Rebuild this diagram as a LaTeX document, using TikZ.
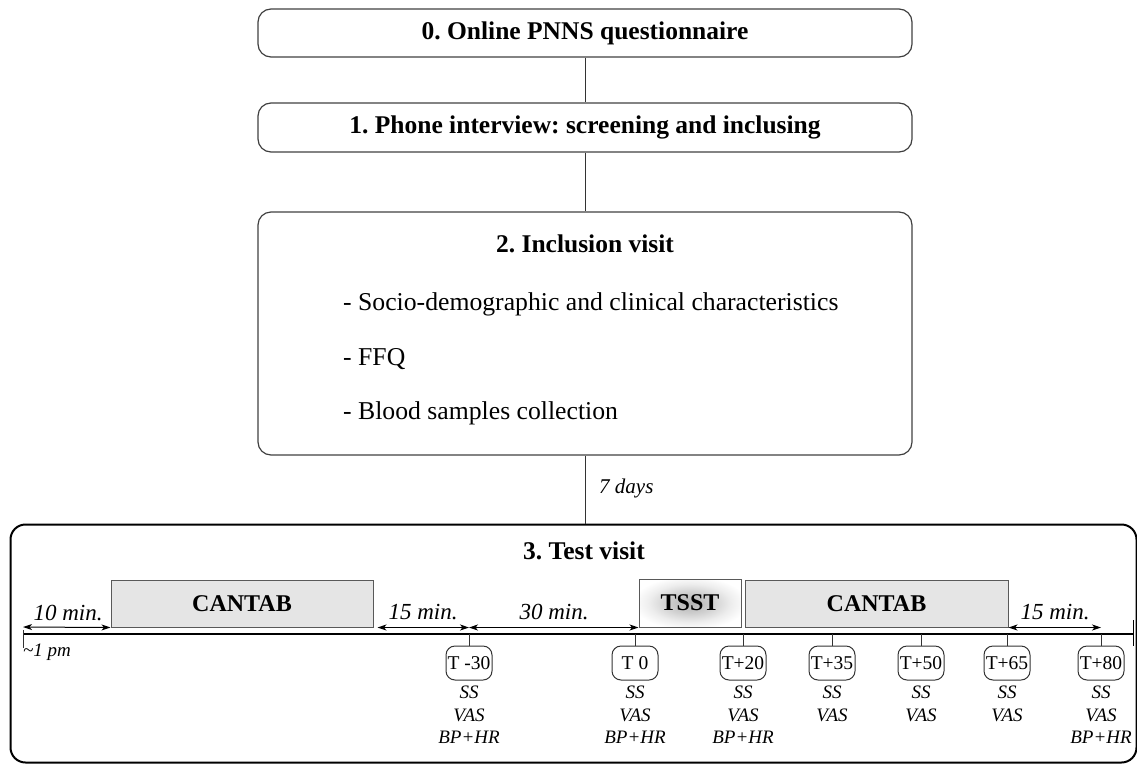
\documentclass[tikz,border=0pt]{standalone}
\usepackage{fontspec}
\setmainfont{Liberation Serif}
\usetikzlibrary{arrows.meta}
\pgfdeclareradialshading{tsstglow}{\pgfpoint{0bp}{0bp}}{color(0bp)=(black!30); color(10bp)=(black!20); color(20bp)=(black!7); color(28bp)=(white); color(50bp)=(white)}
\frenchspacing
\begin{document}
\begin{tikzpicture}[x=1pt,y=-1pt,
 stage/.style={draw=black!75, line width=1.2pt, rounded corners=13pt, minimum width=654pt, inner sep=0pt},
 title/.style={font=\fontsize{25.5}{30}\selectfont\bfseries},
 body/.style={font=\fontsize{25.7}{30}\selectfont, anchor=base west, inner sep=0pt},
 task/.style={draw=black!65, line width=1pt, fill=black!10, minimum height=47pt, inner sep=0pt, font=\fontsize{24}{28}\selectfont\bfseries},
 tbox/.style={draw=black!80, line width=1pt, rounded corners=9pt, minimum width=46pt, minimum height=34pt, inner sep=1pt, font=\fontsize{19.5}{22}\selectfont},
 meas/.style={font=\fontsize{19}{22}\selectfont\itshape, anchor=base, inner sep=0pt},
 dur/.style={font=\fontsize{23}{26}\selectfont\itshape, anchor=base, inner sep=0pt},
 link/.style={draw=black!80, line width=1pt},
 span/.style={{Stealth[length=9pt,width=6pt,inset=2.5pt]}-{Stealth[length=9pt,width=6pt,inset=2.5pt]}, line width=1pt},
]
\useasboundingbox (0,0) rectangle (1137,763);

% stages
\node[stage, minimum height=48pt, title] (b0) at (585,33) {0. Online PNNS questionnaire};
\node[stage, minimum height=49pt, title] (b1) at (585,127.5) {1. Phone interview: screening and inclusing};
\node[stage, minimum height=243pt] (b2) at (585,333.5) {};
\node[title, anchor=base, inner sep=0pt] (b2t) at (585,252) {2. Inclusion visit};
\node[body] (l1) at (343,310) {- Socio-demographic and clinical characteristics};
\node[body] (l2) at (343,365) {- FFQ};
\node[body] (l3) at (343,419) {- Blood samples collection};

\node[draw=black, line width=2pt, rounded corners=15pt, minimum width=1126pt, minimum height=238pt, inner sep=0pt] (b3) at (573.5,643.5) {};
\node[title, anchor=base, inner sep=0pt] (b3t) at (584,559) {3. Test visit};

\draw[link] (b0) -- (b1);
\draw[link] (b1) -- (b2);
\draw[link] (b2.south) -- (b2.south |- b3.north);
\node[font=\fontsize{21}{24}\selectfont\itshape, anchor=base west, inner sep=0pt] (days) at (599,493) {7 days};

% timeline
\coordinate (tlL) at (23,634);
\coordinate (tlR) at (1133,634);
\draw[line width=1.3pt] (tlL) -- (tlR);
\draw[line width=1pt, draw=black!80] (23,630) -- (23,648);
\draw[line width=1pt] (1133,620) -- (1133,646);
\node[font=\fontsize{19}{22}\selectfont\itshape, anchor=base west, inner sep=0pt] (pm) at (23,656) {\textasciitilde 1 pm};

% tasks
\node[task, minimum width=262pt] (c1) at (242,603.5) {CANTAB};
\node[draw=black!65, line width=1pt, minimum width=102pt, minimum height=48pt, inner sep=0pt, shading=tsstglow, font=\fontsize{24}{28}\selectfont\bfseries] (tsst) at (690,603) {TSST};
\node[task, minimum width=263pt] (c2) at (876.5,603.5) {CANTAB};

% time points
\foreach \n/\x/\t/\bp in {m30/469/{T -30}/1, t0/635/{T 0}/1, p20/743/{T+20}/1, p35/832/{T+35}/0, p50/921/{T+50}/0, p65/1007/{T+65}/0, p80/1101/{T+80}/1} {
  \coordinate (k\n) at (\x,634);
  \node[tbox] (t\n) at (\x,663) {\t};
  \draw[link] (k\n) -- (t\n);
  \node[meas] (ss\n) at (\x,698) {SS};
  \node[meas] (vas\n) at (\x,721) {VAS};
  \ifnum\bp=1 \node[meas] (bp\n) at (\x,743) {BP+HR};\fi
}

% durations
\coordinate (s0) at (23,627);
\draw[span] (s0) -- (c1.south west);
\draw[span] ([xshift=4pt]c1.south east) -- (c1.south east -| km30);
\draw[span] (c1.south east -| km30) -- (tsst.south west);
\draw[span] (c2.south east) -- (c2.south east -| kp80);
\node[dur] (d10) at (68,620) {10 min.};
\node[dur] (d15a) at (423,619) {15 min.};
\node[dur] (d30) at (554,619) {30 min.};
\node[dur] (d15b) at (1055,619) {15 min.};
\end{tikzpicture}
\end{document}
